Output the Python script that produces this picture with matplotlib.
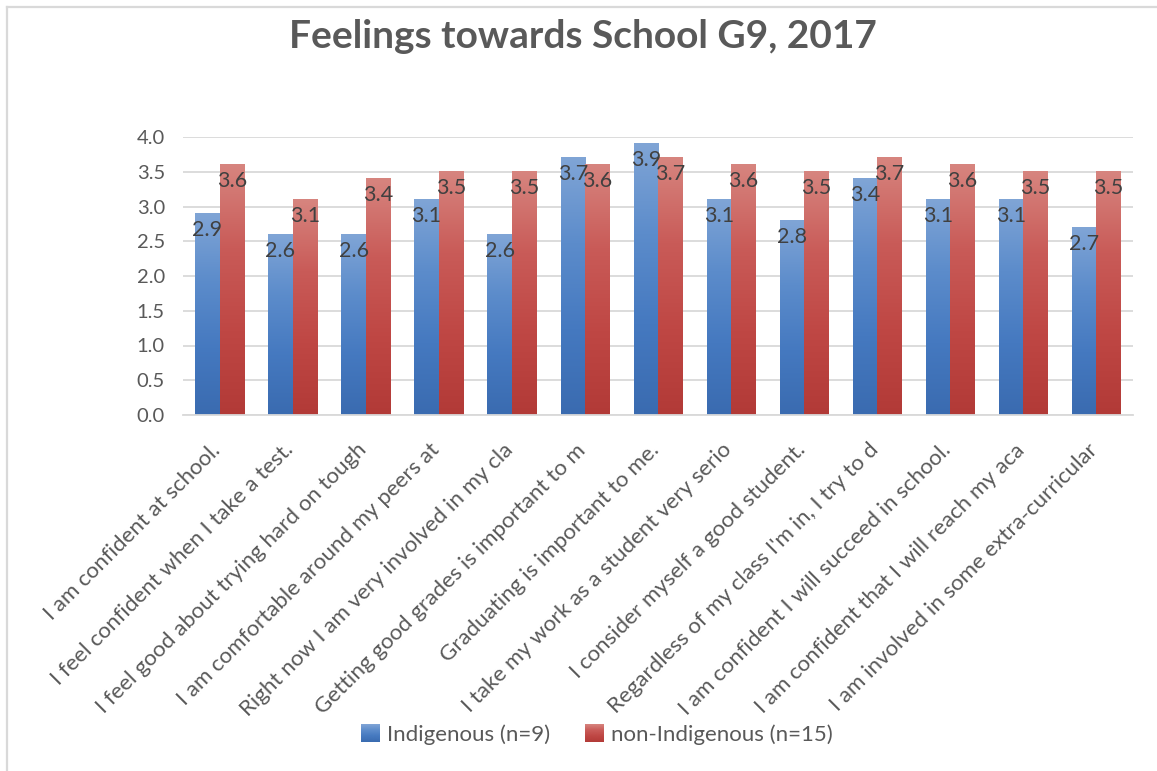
import numpy as np
import matplotlib
matplotlib.use("Agg")
import matplotlib.pyplot as plt
from matplotlib.colors import LinearSegmentedColormap
from matplotlib.legend_handler import HandlerBase
from matplotlib.image import BboxImage
from matplotlib.transforms import Bbox, TransformedBbox
from matplotlib.lines import Line2D
from matplotlib.patches import Rectangle

plt.rcParams['font.family'] = ['Lato', 'DejaVu Sans']

# ---- data -------------------------------------------------------------
statements = [
    "I am confident at school.",
    "I feel confident when I take a test.",
    "I feel good about trying hard on tough",
    "I am comfortable around my peers at",
    "Right now I am very involved in my cla",
    "Getting good grades is important to m",
    "Graduating is important to me.",
    "I take my work as a student very serio",
    "I consider myself a good student.",
    "Regardless of my class I'm in, I try to d",
    "I am confident I will succeed in school.",
    "I am confident that I will reach my aca",
    "I am involved in some extra-curricular",
]
indigenous = [2.9, 2.6, 2.6, 3.1, 2.6, 3.7, 3.9, 3.1, 2.8, 3.4, 3.1, 3.1, 2.7]
non_indigenous = [3.6, 3.1, 3.4, 3.5, 3.5, 3.6, 3.7, 3.6, 3.5, 3.7, 3.6, 3.5, 3.5]
series_names = ["Indigenous (n=9)", "non-Indigenous (n=15)"]
title = "Feelings towards School G9, 2017"
yticks = [0.0, 0.5, 1.0, 1.5, 2.0, 2.5, 3.0, 3.5, 4.0]

# ---- styling ------------------------------------------------------------
blue_cmap = LinearSegmentedColormap.from_list(
    "blue_grad", ["#3A6BB0", "#4579C0", "#5C8CCB", "#80A5D6"])
red_cmap = LinearSegmentedColormap.from_list(
    "red_grad", ["#B23A37", "#BF4744", "#C95B58", "#D7857F"])
grid_color = "#D9D9D9"
text_grey = "#595959"
label_grey = "#404040"

W, H, DPI = 1157, 771, 100
fig = plt.figure(figsize=(W / DPI, H / DPI), dpi=DPI)
ax = fig.add_axes([183 / W, 1 - 415 / H, 950 / W, 278 / H])

grad = np.linspace(0, 1, 256).reshape(-1, 1)
bar_w = 1 / 3
x = np.arange(len(statements))


def gradient_bars(xpos, values, cmap):
    bars = ax.bar(xpos, values, width=bar_w, color="none", edgecolor="none")
    for rect in bars:
        x0, w, h = rect.get_x(), rect.get_width(), rect.get_height()
        ax.imshow(grad, cmap=cmap, origin="lower", aspect="auto",
                  extent=(x0, x0 + w, 0, h), interpolation="bicubic", zorder=2)
    return bars


bars_a = gradient_bars(x - bar_w / 2, indigenous, blue_cmap)
bars_b = gradient_bars(x + bar_w / 2, non_indigenous, red_cmap)

for bars, vals in ((bars_a, indigenous), (bars_b, non_indigenous)):
    for rect, v in zip(bars, vals):
        ax.annotate(f"{v:.1f}", (rect.get_x() + rect.get_width() / 2, v),
                    xytext=(0, -4.5), textcoords="offset points",
                    ha="center", va="top", fontsize=15.5, color=label_grey,
                    zorder=4)

ax.set_xlim(-0.5, len(statements) - 0.5)
ax.set_ylim(0, 4.0)
ax.set_yticks(yticks)
ax.set_yticklabels([f"{t:.1f}" for t in yticks])
ax.tick_params(axis="y", length=0, pad=13, labelsize=14.5, labelcolor=text_grey)
ax.set_xticks(x)
ax.set_xticklabels([])
ax.tick_params(axis="x", length=0)
ax.yaxis.grid(True, color=grid_color, linewidth=1.3, zorder=0)
ax.set_axisbelow(True)
for side in ("top", "right", "left"):
    ax.spines[side].set_visible(False)
ax.spines["bottom"].set_color(grid_color)
ax.spines["bottom"].set_linewidth(1.3)

# rotated category labels, right end anchored under each category
for xi, lab in zip(x, statements):
    ax.annotate(lab, (xi, 0), xytext=(1.5, -26), textcoords="offset points",
                rotation=45, rotation_mode="anchor", ha="right",
                va="baseline", fontsize=16, color=text_grey,
                annotation_clip=False)

fig.text(583 / W, 1 - 37 / H, title, ha="center", va="center",
         fontsize=28, fontweight="bold", color=text_grey)


class GradientSquare(HandlerBase):
    def __init__(self, cmap):
        super().__init__()
        self.cmap = cmap

    def create_artists(self, legend, orig_handle, xdescent, ydescent,
                       width, height, fontsize, trans):
        bb = Bbox.from_bounds(-xdescent, -ydescent, width, height)
        img = BboxImage(TransformedBbox(bb, trans), cmap=self.cmap,
                        origin="lower", interpolation="bicubic")
        img.set_data(grad)
        return [img]


handles = [Rectangle((0, 0), 1, 1), Rectangle((0, 0), 1, 1)]
fig.legend(handles, series_names,
           handler_map={handles[0]: GradientSquare(blue_cmap),
                        handles[1]: GradientSquare(red_cmap)},
           loc="center", bbox_to_anchor=(597 / W, 1 - 735 / H), ncol=2,
           frameon=False, fontsize=16, labelcolor=text_grey,
           handlelength=0.85, handleheight=0.85, handletextpad=0.3,
           columnspacing=1.6)

# chart area border (top and left edges)
fig.add_artist(Line2D([6.5 / W, 6.5 / W], [0, 1 - 6.5 / H],
                      color=grid_color, linewidth=1.6))
fig.add_artist(Line2D([6.5 / W, 1], [1 - 6.5 / H, 1 - 6.5 / H],
                      color=grid_color, linewidth=1.6))

fig.savefig("out.png", dpi=DPI, facecolor="white")
